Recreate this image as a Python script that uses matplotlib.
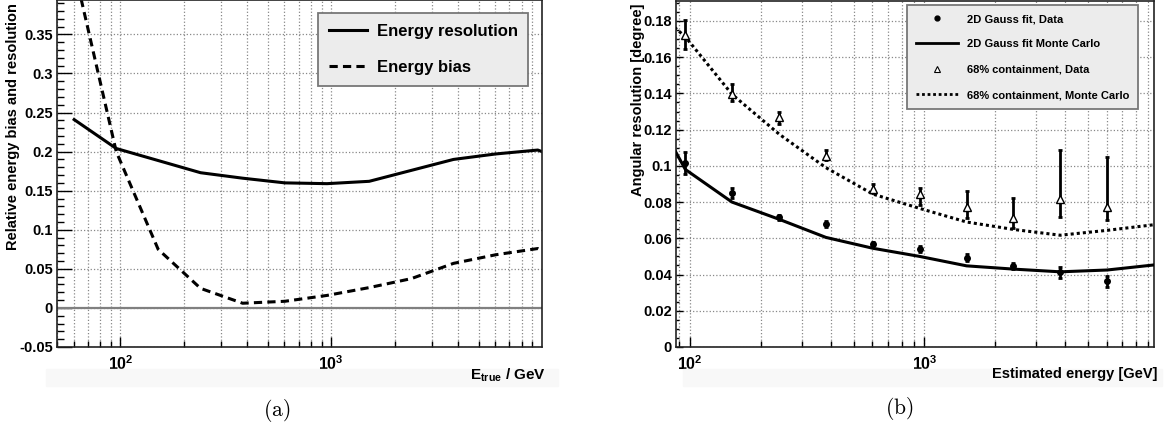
import numpy as np
import matplotlib
matplotlib.use("Agg")
import matplotlib.pyplot as plt
from matplotlib.ticker import LogLocator, NullFormatter, FormatStrFormatter, MultipleLocator
from matplotlib.lines import Line2D
from matplotlib.patches import Rectangle

plt.rcParams['font.family'] = ['Liberation Sans', 'DejaVu Sans']
plt.rcParams['font.weight'] = 'bold'
plt.rcParams['mathtext.fontset'] = 'custom'
plt.rcParams['mathtext.rm'] = 'Liberation Sans:bold'
plt.rcParams['mathtext.bf'] = 'Liberation Sans:bold'
plt.rcParams['mathtext.it'] = 'Liberation Sans:bold'

# ---- panel (a): energy resolution / bias vs true energy
e_res = [60.3, 95.5, 240, 380, 603, 955, 1514, 2399, 3802, 6026, 9550, 10000]
resolution = [0.241, 0.204, 0.173, 0.166, 0.160, 0.159, 0.162, 0.176, 0.190, 0.197, 0.202, 0.200]
e_bias = [60.3, 95.5, 151, 240, 380, 603, 955, 1514, 2399, 3802, 6026, 9550, 10000]
bias = [0.434, 0.200, 0.075, 0.025, 0.006, 0.0085, 0.016, 0.026, 0.0375, 0.057, 0.068, 0.076, 0.073]

# ---- panel (b): angular resolution vs estimated energy
e_bins = [95.5, 151, 240, 380, 603, 955, 1514, 2399, 3802, 6026]
gauss_data = [0.1017, 0.085, 0.0716, 0.068, 0.057, 0.054, 0.0493, 0.0446, 0.0413, 0.0363]
gauss_err = [0.006, 0.0025, 0.0015, 0.0015, 0.0008, 0.0015, 0.002, 0.0016, 0.003, 0.003]
cont_data = [0.1723, 0.1394, 0.127, 0.1055, 0.087, 0.0842, 0.0772, 0.071, 0.0815, 0.0772]
cont_lo = [0.008, 0.0035, 0.004, 0.0025, 0.002, 0.006, 0.006, 0.0055, 0.0096, 0.0073]
cont_hi = [0.008, 0.0056, 0.003, 0.0035, 0.003, 0.0037, 0.009, 0.011, 0.027, 0.0277]
e_mc = [60.3, 95.5, 151, 240, 380, 603, 955, 1514, 2399, 3802, 6026, 9550]
gauss_mc = [0.145, 0.098, 0.080, 0.0705, 0.0605, 0.0545, 0.050, 0.0448, 0.043, 0.0415, 0.0425, 0.0453]
cont_mc = [0.194, 0.1712, 0.1395, 0.1175, 0.099, 0.0844, 0.0765, 0.069, 0.0649, 0.0617, 0.0644, 0.0675]

W, H = 1171, 429
fig = plt.figure(figsize=(W / 100, H / 100), dpi=100)

# faint canvas strips under the plots
for x0, x1 in [(46, 558), (683, 1162)]:
    fig.patches.append(Rectangle((x0 / W, 1 - 386 / H), (x1 - x0) / W, 17 / H,
                                 transform=fig.transFigure, color='#f8f8f8', zorder=0))

ax1 = fig.add_axes([57 / W, 1 - 347 / H, 485 / W, 347 / H])
ax2 = fig.add_axes([676 / W, 1 - 347 / H, 478 / W, 346 / H])


def style_axis(ax, ymaj, ymin, ylen):
    ax.set_xscale('log')
    ax.set_xticks([100, 1000])
    ax.set_xticklabels([r'$\mathbf{10^{2}}$', r'$\mathbf{10^{3}}$'])
    ax.xaxis.set_minor_locator(LogLocator(base=10, subs=np.arange(2, 10), numticks=20))
    ax.xaxis.set_minor_formatter(NullFormatter())
    ax.yaxis.set_major_locator(MultipleLocator(ymaj))
    ax.yaxis.set_minor_locator(MultipleLocator(ymin))
    ax.yaxis.set_major_formatter(FormatStrFormatter('%g'))
    ax.tick_params(which='both', direction='in', top=False, right=False, width=1, labelsize=10.5)
    ax.tick_params(axis='x', which='major', length=7.5, pad=5, labelsize=11.5)
    ax.tick_params(axis='x', which='minor', length=4.5)
    ax.tick_params(axis='y', which='major', length=ylen, pad=3)
    ax.tick_params(axis='y', which='minor', length=ylen / 2)
    ax.grid(True, which='major', ls=':', color='#888888', lw=0.9)
    ax.grid(True, which='minor', axis='x', ls=':', color='#888888', lw=0.9)
    for s in ax.spines.values():
        s.set_linewidth(1.2)
        s.set_color('#222222')


# ---- (a)
style_axis(ax1, 0.05, 0.01, 10.5)
ax1.set_xlim(50, 10000)
ax1.set_ylim(-0.05, 0.394)
ax1.axhline(0, color='#808080', lw=1.6, zorder=1.8)
ax1.plot(e_res, resolution, color='black', lw=2.2, label='Energy resolution')
ax1.plot(e_bias, bias, color='black', lw=2.2, ls=(0, (2.7, 1.7)), label='Energy bias')
leg1 = ax1.legend(loc='upper right', bbox_to_anchor=(0.972, 0.962), fontsize=12,
                  frameon=True, fancybox=False, framealpha=1, facecolor='#ececec',
                  edgecolor='#777777', handlelength=2.3, handletextpad=0.55,
                  labelspacing=1.25, borderpad=0.65, borderaxespad=0)
leg1.get_frame().set_linewidth(1.3)

fig.text(13 / W, 1 - 3 / H, 'Relative energy bias and resolution', rotation=90,
         ha='center', va='top', fontsize=10.5)
fig.text(546 / W, 1 - 375 / H, r'$\mathbf{E}_{\mathbf{true}}$ / GeV', ha='right',
         va='center', fontsize=11)
fig.text(277 / W, 1 - 410 / H, r'$\mathrm{(a)}$', math_fontfamily='cm', fontsize=15.5,
         ha='center', va='center')

# ---- (b)
style_axis(ax2, 0.02, 0.005, 5)
ax2.set_xlim(10 ** 1.94, 10 ** 3.98)
ax2.set_ylim(0, 0.191)
ax2.plot(e_mc, gauss_mc, color='black', lw=2.2, zorder=3)
ax2.plot(e_mc, cont_mc, color='black', lw=2.2, ls=(0, (1, 1)), zorder=3)
ax2.errorbar(e_bins, gauss_data, yerr=gauss_err, fmt='o', color='black', ms=4,
             elinewidth=2, capsize=1.6, capthick=2, zorder=4)
ax2.errorbar(e_bins, cont_data, yerr=[cont_lo, cont_hi], fmt='none', ecolor='black',
             elinewidth=2, capsize=1.6, capthick=2, zorder=4)
ax2.plot(e_bins, cont_data, ls='none', marker='^', ms=5.5, mfc='white', mec='black',
         mew=1, zorder=5)

handles = [
    Line2D([], [], ls='none', marker='o', color='black', ms=3.5),
    Line2D([], [], color='black', lw=2),
    Line2D([], [], ls='none', marker='^', mfc='white', mec='black', mew=0.8, ms=5),
    Line2D([], [], color='black', lw=2, ls=(0, (1, 1))),
]
labels = ['2D Gauss fit, Data', '2D Gauss fit Monte Carlo',
          '68% containment, Data', '68% containment, Monte Carlo']
leg2 = ax2.legend(handles, labels, loc='upper right', bbox_to_anchor=(0.9665, 0.988),
                  fontsize=8, frameon=True, fancybox=False, framealpha=1,
                  facecolor='#ececec', edgecolor='#777777', handlelength=3.8,
                  handletextpad=0.8, labelspacing=1.38, borderpad=0.8, borderaxespad=0)
leg2.get_frame().set_linewidth(1.3)

fig.text(638 / W, 1 - 3 / H, 'Angular resolution [degree]', rotation=90,
         ha='center', va='top', fontsize=10.5)
fig.text(1158 / W, 1 - 374 / H, 'Estimated energy [GeV]', ha='right', va='center',
         fontsize=10.5)
fig.text(899 / W, 1 - 408 / H, r'$\mathrm{(b)}$', math_fontfamily='cm', fontsize=15.5,
         ha='center', va='center')

fig.savefig('out.png', dpi=100)
